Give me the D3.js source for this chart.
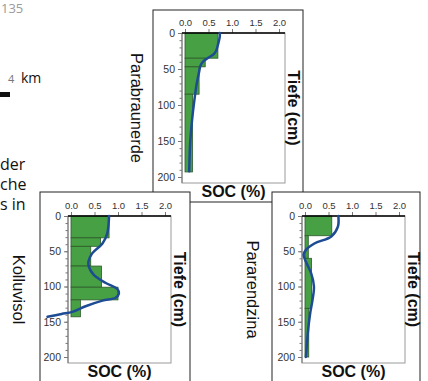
<!DOCTYPE html>
<html>
<head>
<meta charset="utf-8">
<script src="https://cdn.jsdelivr.net/npm/d3@7"></script>
<style>
  body { margin: 0; background: #fff; }
  svg { display: block; }
</style>
</head>
<body>
<svg id="chart" width="428" height="381"></svg>
<script>
// axis ticks
const xTicks = [0, 0.5, 1.0, 1.5, 2.0];
const yTicks = [0, 50, 100, 150, 200];

// Parabraunerde: horizon bounds (cm), SOC per horizon (%), fitted profile
const parabraunerdeDepths = [0, 35, 47, 85, 193];
const parabraunerdeSoc = [0.70, 0.43, 0.30, 0.16];
const parabraunerdeCurveDepth = [0, 5, 14, 25, 30, 35, 40, 45, 54, 70, 93, 121, 153, 192];
const parabraunerdeCurveSoc = [0.74, 0.74, 0.71, 0.66, 0.60, 0.48, 0.38, 0.33, 0.30, 0.25, 0.20, 0.15, 0.11, 0.09];

// Kolluvisol
const kolluvisolDepths = [0, 31, 43, 71, 101, 119, 143];
const kolluvisolSoc = [0.81, 0.63, 0.42, 0.65, 1.00, 0.20];
const kolluvisolCurveDepth = [0, 25, 39, 53, 65, 72, 84, 95, 104, 110, 116, 120, 128, 136, 139, 143];
const kolluvisolCurveSoc = [0.81, 0.77, 0.67, 0.45, 0.37, 0.38, 0.49, 0.74, 0.99, 1.02, 0.95, 0.67, 0.31, 0.03, -0.2, -0.5];

// Pararendzina
const pararendzinaDepths = [0, 28, 60, 131, 200];
const pararendzinaSoc = [0.57, 0.07, 0.14, 0.08];
const pararendzinaCurveDepth = [0, 15, 29, 39, 48, 55, 65, 81, 100, 119, 138, 166, 200];
const pararendzinaCurveSoc = [0.71, 0.70, 0.56, 0.20, 0.02, -0.03, 0.02, 0.13, 0.19, 0.16, 0.11, 0.06, 0.02];

const svg = d3.select('#chart');

// cropped map text on the left edge
const side = svg.append('g').attr('font-family', '"Open Sans", sans-serif');
side.append('text').attr('x', 1).attr('y', 13).attr('font-size', 13).attr('fill', '#9a9a9a').text('135');
side.append('text').attr('x', 8).attr('y', 83).attr('font-size', 11).attr('fill', '#777').text('4');
side.append('text').attr('x', 21).attr('y', 83).attr('font-size', 14).attr('fill', '#111').text('km');
side.append('rect').attr('x', 0).attr('y', 92).attr('width', 10).attr('height', 5).attr('fill', '#111');
side.append('text').attr('x', 0).attr('y', 170).attr('font-size', 16).attr('fill', '#111').text('der');
side.append('text').attr('x', 0).attr('y', 190).attr('font-size', 16).attr('fill', '#111').text('che');
side.append('text').attr('x', 0).attr('y', 210).attr('font-size', 16).attr('fill', '#111').text('s in');

function drawPanel(p) {
  const g = svg.append('g');

  g.append('rect')
    .attr('x', p.frame[0]).attr('y', p.frame[1])
    .attr('width', p.frame[2]).attr('height', p.frame[3])
    .attr('fill', '#fff').attr('stroke', '#222').attr('stroke-width', 1);

  const x = d3.scaleLinear().domain([0, 2]).range([p.axisX + 3, p.axisX + 97]);
  const y = d3.scaleLinear().domain([0, 200]).range([p.top, p.top + p.span]);
  const right = p.axisX + 103;

  // plot box
  g.append('rect')
    .attr('x', p.axisX).attr('y', p.top)
    .attr('width', right - p.axisX).attr('height', p.bottom - p.top)
    .attr('fill', '#fff').attr('stroke', '#9a9a9a').attr('stroke-width', 1);

  // horizon bars
  const bars = d3.range(p.soc.length).map(i => ({ top: p.depths[i], bottom: p.depths[i + 1], soc: p.soc[i] }));
  g.selectAll('rect.bar').data(bars).join('rect')
    .attr('class', 'bar')
    .attr('x', x(0))
    .attr('y', d => y(d.top))
    .attr('width', d => x(d.soc) - x(0))
    .attr('height', d => y(d.bottom) - y(d.top))
    .attr('fill', '#47a043')
    .attr('stroke', '#2c5a2a')
    .attr('stroke-width', 0.8);

  // y axis (depth) on the left
  const gy = g.append('g')
    .attr('transform', `translate(${p.axisX},0)`)
    .call(d3.axisLeft(y).tickValues(y.ticks(20)).tickSize(2.5).tickFormat(''));
  gy.select('.domain').remove();
  gy.selectAll('line').attr('stroke', '#777');
  const gy2 = g.append('g')
    .attr('transform', `translate(${p.axisX},0)`)
    .call(d3.axisLeft(y).tickValues(yTicks).tickSize(4).tickPadding(3));
  gy2.select('.domain').remove();
  gy2.selectAll('line').attr('stroke', '#777');
  gy2.selectAll('text').attr('font-size', 10.5).attr('fill', '#333')
    .attr('font-family', '"Liberation Sans", Arial, sans-serif');
  g.append('line')
    .attr('x1', p.axisX).attr('x2', p.axisX)
    .attr('y1', p.top).attr('y2', p.bottom)
    .attr('stroke', '#777');

  // x axis on top
  const gx = g.append('g')
    .attr('transform', `translate(0,${p.top})`)
    .call(d3.axisTop(x).tickValues(xTicks).tickSize(4).tickPadding(3).tickFormat(d3.format('.1f')));
  gx.select('.domain').remove();
  gx.selectAll('line').attr('stroke', '#777');
  gx.selectAll('text').attr('font-size', 9.5).attr('fill', '#333')
    .attr('font-family', '"Liberation Sans", Arial, sans-serif');
  g.append('line')
    .attr('x1', p.axisX).attr('x2', right)
    .attr('y1', p.top).attr('y2', p.top)
    .attr('stroke', '#000').attr('stroke-width', 1.6);

  // fitted profile
  const pts = p.curveDepth.map((d, i) => [p.curveSoc[i], d]);
  g.append('path')
    .datum(pts)
    .attr('fill', 'none')
    .attr('stroke', '#1d4c94')
    .attr('stroke-width', 2.5)
    .attr('stroke-linecap', 'round')
    .attr('d', d3.line().x(d => x(d[0])).y(d => y(d[1])).curve(d3.curveCatmullRom));

  const mid = (p.top + p.bottom) / 2;
  g.append('text')
    .attr('x', (p.axisX + right) / 2).attr('y', p.socY)
    .attr('text-anchor', 'middle')
    .attr('font-family', '"Liberation Sans", Arial, sans-serif')
    .attr('font-weight', 'bold').attr('font-size', 16).attr('fill', '#111')
    .text('SOC (%)');
  g.append('text')
    .attr('transform', `translate(${right + 3},${mid}) rotate(90)`)
    .attr('text-anchor', 'middle')
    .attr('font-family', '"Liberation Sans", Arial, sans-serif')
    .attr('font-weight', 'bold').attr('font-size', 16).attr('fill', '#111')
    .text('Tiefe (cm)');
  svg.append('text')
    .attr('transform', `translate(${p.nameX},${mid}) rotate(90)`)
    .attr('text-anchor', 'middle')
    .attr('font-family', '"Liberation Sans", Arial, sans-serif')
    .attr('font-size', 16.5).attr('fill', '#111')
    .text(p.name);
}

drawPanel({
  name: 'Parabraunerde', nameX: 131,
  frame: [153, 10, 150, 192], axisX: 182, top: 33, span: 144, bottom: 183, socY: 197,
  depths: parabraunerdeDepths, soc: parabraunerdeSoc,
  curveDepth: parabraunerdeCurveDepth, curveSoc: parabraunerdeCurveSoc
});
drawPanel({
  name: 'Kolluvisol', nameX: 13,
  frame: [40, 192, 150, 200], axisX: 68, top: 216, span: 141, bottom: 363, socY: 377,
  depths: kolluvisolDepths, soc: kolluvisolSoc,
  curveDepth: kolluvisolCurveDepth, curveSoc: kolluvisolCurveSoc
});
drawPanel({
  name: 'Pararendzina', nameX: 247,
  frame: [272, 192, 148, 200], axisX: 302, top: 216, span: 141, bottom: 363, socY: 377,
  depths: pararendzinaDepths, soc: pararendzinaSoc,
  curveDepth: pararendzinaCurveDepth, curveSoc: pararendzinaCurveSoc
});
</script>
</body>
</html>
